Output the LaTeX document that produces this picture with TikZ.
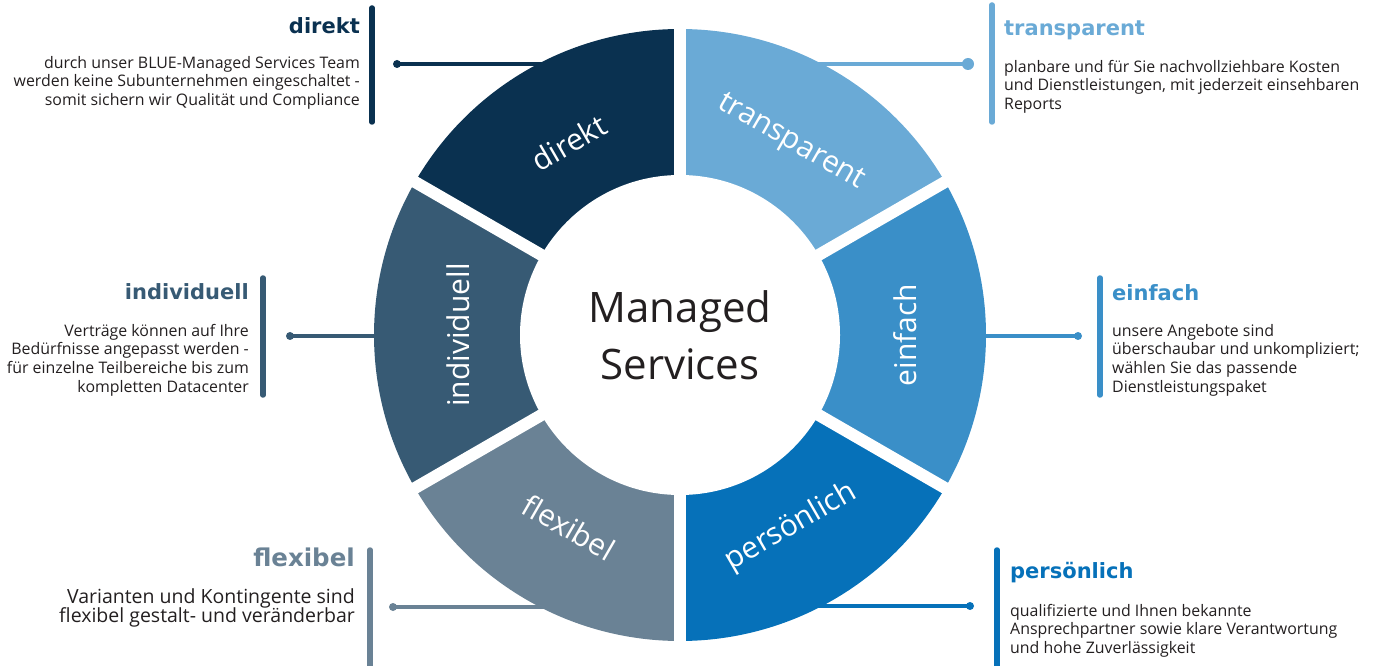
\documentclass[tikz,border=0pt]{standalone}
\usepackage{fontspec}
\usetikzlibrary{calc}
\setmainfont{Open Sans}
\newfontfamily\headfont{DejaVu Sans}
\definecolor{cDir}{HTML}{0A3150}
\definecolor{cIndi}{HTML}{375A74}
\definecolor{cFlex}{HTML}{6A8295}
\definecolor{cTrans}{HTML}{6AAAD6}
\definecolor{cEinf}{HTML}{3A8FC8}
\definecolor{cPers}{HTML}{0671B9}
\definecolor{txt}{HTML}{231F20}
\begin{document}
\begin{tikzpicture}[x=1pt,y=1pt,
    seglabel/.style={text=white,font=\fontsize{30}{32}\selectfont,inner sep=0pt},
    heading/.style={font=\headfont\bfseries\fontsize{21}{24}\selectfont,inner sep=0pt},
    body/.style={font=\fontsize{15.9}{18.6}\selectfont,text=txt,inner sep=0pt},
    bar/.style={line width=5.5pt,line cap=round},
    conn/.style={line width=4.5pt},
    dot/.style={circle,inner sep=0pt,minimum size=8pt}]
        \useasboundingbox (0,0) rectangle (1379,665);

        \node (dirDot) at (397,601) [dot,fill=cDir]{};
        \node (transDot) at (968,601) [dot,fill=cTrans,minimum size=12pt]{};
        \node (indiDot) at (290,329) [dot,fill=cIndi]{};
        \node (einfDot) at (1078,329) [dot,fill=cEinf]{};
        \node (flexDot) at (393,58) [dot,fill=cFlex]{};
        \node (persDot) at (970,59) [dot,fill=cPers]{};
        \coordinate (dirEnd) at (600,601);
        \coordinate (transEnd) at (760,601);
        \coordinate (indiEnd) at (420,329);
        \coordinate (einfEnd) at (940,329);
        \coordinate (flexEnd) at (600,58);
        \coordinate (persEnd) at (760,59);
        \draw [conn,cDir] (dirDot.center) -- (dirEnd);
        \draw [conn,cTrans] (transDot.center) -- (transEnd);
        \draw [conn,cIndi] (indiDot.center) -- (indiEnd);
        \draw [conn,cEinf] (einfDot.center) -- (einfEnd);
        \draw [conn,cFlex] (flexDot.center) -- (flexEnd);
        \draw [conn,cPers] (persDot.center) -- (persEnd);

        \coordinate (mid) at (680,330);
        \foreach \a/\c in {90/cTrans,30/cEinf,-30/cPers,-90/cFlex,-150/cIndi,150/cDir}
            \fill [\c] (mid) -- +(\a:306pt) arc [start angle=\a,end angle=\a-60,radius=306pt] -- cycle;
        \foreach \a in {30,90,150,210,270,330}
            \draw [white,line width=12pt] (mid) -- +(\a:320pt);
        \fill [white] (mid) circle [radius=160pt];

        \node (center) at (mid) [align=center,text=txt,font=\fontsize{42}{57}\selectfont]{Managed\\Services};
        \node (lTrans) at ($(mid)+(60:222pt)$) [seglabel,rotate=-30]{transparent};
        \node (lEinf) at ($(mid)+(0:225pt)$) [seglabel,rotate=90]{einfach};
        \node (lPers) at ($(mid)+(-60:222pt)$) [seglabel,rotate=30]{persönlich};
        \node (lFlex) at ($(mid)+(-120:222pt)$) [seglabel,rotate=-30]{flexibel};
        \node (lIndi) at ($(mid)+(180:222pt)$) [seglabel,rotate=90]{individuell};
        \node (lDir) at ($(mid)+(120:222pt)$) [seglabel,rotate=30]{direkt};

        \draw [bar,cDir] (372,657) -- (372,543);
        \node (hDir) at (360,639) [heading,anchor=east,text=cDir]{direkt};
        \node (tDir) at (360,609) [body,anchor=north east,align=right]{durch unser BLUE-Managed Services Team\\werden keine Subunternehmen eingeschaltet -\\somit sichern wir Qualität und Compliance};

        \draw [bar,cTrans] (992,660) -- (992,543);
        \node (hTrans) at (1004,635) [heading,anchor=west,text=cTrans]{transparent};
        \node (tTrans) at (1004,605) [body,anchor=north west,align=left]{planbare und für Sie nachvollziehbare Kosten\\und Dienstleistungen, mit jederzeit einsehbaren\\Reports};

        \draw [bar,cIndi] (263,387) -- (263,270);
        \node (hIndi) at (249,373) [heading,anchor=east,text=cIndi]{individuell};
        \node (tIndi) at (249,341) [body,anchor=north east,align=right]{Verträge können auf Ihre\\Bedürfnisse angepasst werden -\\für einzelne Teilbereiche bis zum\\kompletten Datacenter};

        \draw [bar,cEinf] (1100,387) -- (1100,270);
        \node (hEinf) at (1112,372) [heading,anchor=west,text=cEinf]{einfach};
        \node (tEinf) at (1112,341) [body,anchor=north west,align=left]{unsere Angebote sind\\überschaubar und unkompliziert;\\wählen Sie das passende\\Dienstleistungspaket};

        \draw [bar,cFlex] (370,115) -- (370,-5);
        \node (hFlex) at (355,108) [heading,anchor=east,text=cFlex,font=\headfont\bfseries\fontsize{24.5}{26}\selectfont]{flexibel};
        \node (tFlex) at (355,77) [body,anchor=north east,align=right,font=\fontsize{19.5}{19.8}\selectfont]{Varianten und Kontingente sind\\flexibel gestalt- und veränderbar};

        \draw [bar,cPers] (997,115) -- (997,-5);
        \node (hPers) at (1010,92) [heading,anchor=west,text=cPers]{persönlich};
        \node (tPers) at (1010,61) [body,anchor=north west,align=left]{qualifizierte und Ihnen bekannte\\Ansprechpartner sowie klare Verantwortung\\und hohe Zuverlässigkeit};
    \end{tikzpicture}
\end{document}
